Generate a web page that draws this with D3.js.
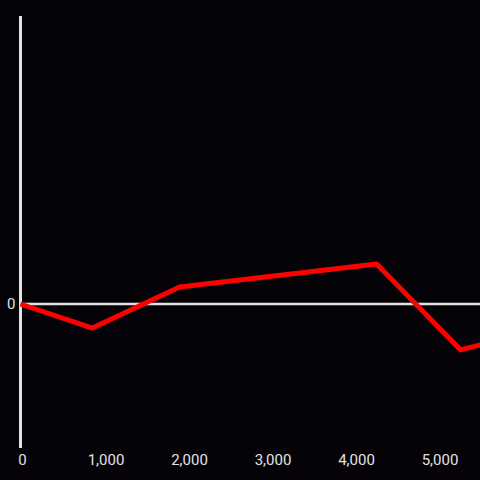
<!DOCTYPE html>
<html lang="en">
<head>
<meta charset="UTF-8"/>
<title>Line Chart</title>
<script src="https://d3js.org/d3.v7.min.js"></script>
<style>
	html, body {
		margin: 0;
		padding: 0;
		background: #050307;
	}

	.axis path,
	.axis line {
		fill: none;
		stroke: #e2e2e2;
	}

	.axis text {
		fill: #e2e2e2;
		font-family: Roboto, sans-serif;
		font-size: 15px;
	}

	.line {
		fill: none;
		stroke: #ff0000;
		stroke-width: 5px;
		stroke-linejoin: round;
	}
</style>
</head>
<body>
<div id="chart"></div>
<script>
	var w = 480;
	var h = 480;

	// data
	var xValues = [0, 860, 1906, 4265, 5272, 5600];
	var yValues = [0, -0.167, 0.118, 0.278, -0.319, -0.27];
	var xTicks = [0, 1000, 2000, 3000, 4000, 5000];
	var yTicks = [0];

	var dataset = xValues.map(function(x, i) {
		return { x: x, y: yValues[i] };
	});

	var xScale = d3.scaleLinear()
		.domain([0, 5000])
		.range([20.5, 438]);

	var yScale = d3.scaleLinear()
		.domain([-1, 2])
		.range([448, 16]);

	var svg = d3.select("#chart")
		.append("svg")
		.attr("width", w)
		.attr("height", h)
		.style("display", "block");

	svg.append("rect")
		.attr("width", w)
		.attr("height", h)
		.attr("fill", "#050307");

	// x axis: labels only, along the bottom
	var xAxis = d3.axisBottom(xScale)
		.tickValues(xTicks)
		.tickSize(0)
		.tickPadding(6)
		.tickFormat(d3.format(","));

	var gx = svg.append("g")
		.attr("class", "axis")
		.attr("transform", "translate(0,448)")
		.call(xAxis);
	gx.select(".domain").remove();
	gx.selectAll("text").attr("dx", "1.5");

	// zero line across the plot
	svg.append("line")
		.attr("x1", xScale(0))
		.attr("x2", w)
		.attr("y1", yScale(0))
		.attr("y2", yScale(0))
		.attr("stroke", "#e2e2e2")
		.attr("stroke-width", 2.5);

	// y axis line with a single label
	var yAxis = d3.axisLeft(yScale)
		.tickValues(yTicks)
		.tickSize(0)
		.tickPadding(5)
		.tickFormat(d3.format("d"));

	var gy = svg.append("g")
		.attr("class", "axis")
		.attr("transform", "translate(" + xScale(0) + ",0)")
		.call(yAxis);
	gy.select(".domain")
		.attr("d", "M0," + yScale(2) + "V" + yScale(-1))
		.attr("stroke-width", 3);

	var line = d3.line()
		.x(function(d) { return xScale(d.x); })
		.y(function(d) { return yScale(d.y); });

	svg.append("path")
		.datum(dataset)
		.attr("class", "line")
		.attr("d", line);
</script>
</body>
</html>
